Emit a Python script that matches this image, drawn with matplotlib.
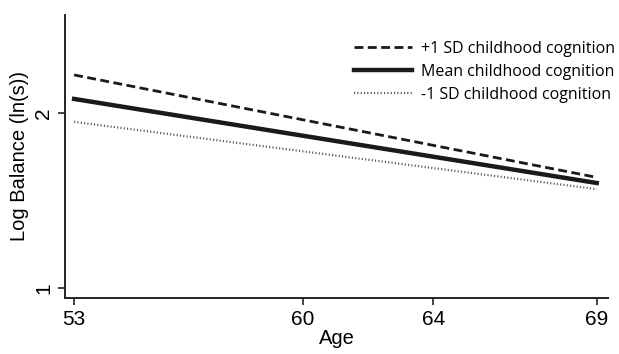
import matplotlib
matplotlib.use("Agg")
import matplotlib.pyplot as plt

ages = [53, 69]
plus_sd = [2.217, 1.632]
mean_c = [2.08, 1.60]
minus_sd = [1.949, 1.565]
xticks = [53, 60, 64, 69]
yticks = [1, 2]

plt.rcParams['font.family'] = ['Liberation Sans', 'DejaVu Sans']

fig = plt.figure(figsize=(6.19, 3.54), dpi=100)
ax = fig.add_axes([0.105, 0.158, 0.877, 0.80])

ax.plot(ages, plus_sd, color='#1a1a1a', lw=2.0, ls=(0, (3.2, 1.6)), label='+1 SD childhood cognition')
ax.plot(ages, mean_c, color='#1a1a1a', lw=3.2, ls='-', label='Mean childhood cognition')
ax.plot(ages, minus_sd, color='#555555', lw=1.6, ls=(0, (0.5, 1.0)), label='-1 SD childhood cognition')

ax.set_xlim(52.72, 69.34)
ax.set_ylim(0.943, 2.56)
ax.set_xticks(xticks)
ax.set_yticks(yticks)
ax.set_yticklabels([str(v) for v in yticks], rotation=90, va='center')
ax.tick_params(axis='both', labelsize=15, length=5, width=1.2, color='#222222', direction='out')
for s in ['top', 'right']:
    ax.spines[s].set_visible(False)
for s in ['left', 'bottom']:
    ax.spines[s].set_linewidth(1.4)
    ax.spines[s].set_color('#222222')

ax.set_xlabel('Age', fontsize=14.5, labelpad=0)
ax.set_ylabel('Log Balance (ln(s))', fontsize=14.5, labelpad=4)

leg = ax.legend(loc='upper right', bbox_to_anchor=(1.04, 0.96), frameon=False,
                prop={'family': 'Open Sans', 'size': 11.5}, handlelength=3.6,
                handletextpad=0.6, labelspacing=0.45)

fig.savefig('out.png', dpi=100)
